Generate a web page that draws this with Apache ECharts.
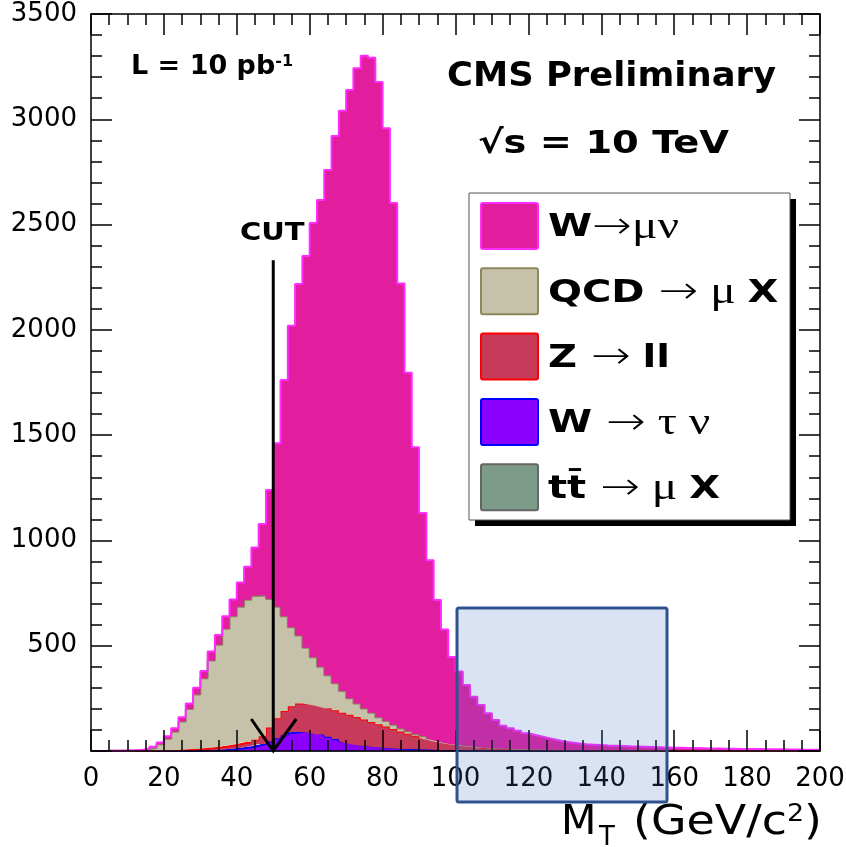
<!DOCTYPE html>
<html>
<head>
<meta charset="utf-8">
<script src="https://cdn.jsdelivr.net/npm/echarts@6/dist/echarts.min.js"></script>
<style>
  html, body { margin: 0; padding: 0; background: #fff; }
  #chart { width: 846px; height: 847px; }
</style>
</head>
<body>
<div id="chart"></div>
<script>
// M_T histogram, 2 GeV bins from 0 to 200
var binWidth = 2;
var xTicks = [0, 20, 40, 60, 80, 100, 120, 140, 160, 180, 200];
var yTicks = [0, 500, 1000, 1500, 2000, 2500, 3000, 3500];

// per-process contents (events / bin)
var wMuNu = [0, 0, 0, 0, 1, 1, 1, 2, 5, 8, 12, 16, 20, 25, 32, 35, 42, 46, 60, 80,
    115, 157, 231, 340, 518, 776, 1122, 1432, 1670, 1861, 2062, 2217, 2399, 2599, 2756, 2889, 3017, 3100, 3110, 3017,
    2816, 2478, 2113, 1702, 1361, 1060, 847, 667, 535, 411, 347, 287, 236, 199, 163, 133, 108, 97, 86, 75,
    68, 61, 53, 46, 38, 35, 31, 27, 26, 24, 22, 22, 21, 19, 18, 17, 16, 15, 14, 13,
    12, 12, 12, 11, 10, 10, 9, 9, 8, 8, 7, 8, 7, 7, 7, 6, 6, 5, 5, 5];
var qcdMuX = [0, 0, 1, 1, 1, 2, 3, 6, 13, 30, 55, 88, 135, 193, 259, 334, 416, 487, 557, 611,
    649, 675, 683, 668, 610, 530, 450, 376, 322, 265, 225, 188, 157, 129, 103, 78, 63, 52, 44, 33,
    26, 21, 14, 12, 9, 8, 6, 5, 4, 3, 3, 3, 3, 3, 2, 2, 2, 2, 2, 2,
    2, 2, 2, 2, 2, 2, 2, 2, 2, 2, 2, 2, 2, 2, 2, 2, 2, 2, 2, 2,
    2, 1, 1, 1, 1, 1, 2, 2, 2, 2, 2, 1, 1, 1, 1, 1, 1, 1, 1, 1];
var zLL = [0, 0, 0, 0, 0, 0, 1, 1, 2, 2, 3, 4, 5, 7, 8, 9, 11, 14, 17, 20,
    23, 25, 28, 37, 67, 95, 115, 125, 134, 135, 135, 134, 135, 136, 136, 135, 132, 125, 117, 109,
    101, 91, 82, 72, 63, 54, 46, 39, 33, 27, 23, 19, 16, 13, 11, 10, 8, 7, 6, 5,
    4, 4, 4, 3, 3, 2, 2, 2, 1, 1, 1, 1, 1, 1, 1, 1, 1, 1, 1, 1,
    1, 1, 1, 1, 1, 1, 0, 0, 0, 0, 0, 0, 0, 0, 0, 0, 0, 0, 0, 0];
var wTauNu = [0, 0, 0, 0, 0, 0, 0, 0, 0, 0, 0, 0, 0, 0, 1, 2, 3, 4, 6, 9,
    13, 18, 24, 32, 44, 59, 74, 86, 91, 89, 84, 77, 67, 56, 45, 36, 29, 24, 20, 17,
    14, 12, 10, 9, 8, 7, 7, 6, 5, 5, 4, 4, 3, 3, 3, 2, 2, 2, 2, 2,
    2, 1, 1, 1, 1, 1, 1, 1, 1, 1, 1, 0, 0, 0, 0, 0, 0, 0, 0, 0,
    0, 0, 0, 0, 0, 0, 0, 0, 0, 0, 0, 0, 0, 0, 0, 0, 0, 0, 0, 0];
var ttMuX = [0, 0, 0, 0, 0, 0, 0, 0, 0, 0, 0, 0, 0, 0, 0, 0, 0, 0, 0, 0,
    0, 0, 1, 1, 1, 1, 1, 1, 1, 1, 1, 1, 1, 1, 1, 1, 1, 1, 1, 1,
    1, 1, 1, 1, 1, 1, 0, 0, 0, 0, 0, 0, 0, 0, 0, 0, 0, 0, 0, 0,
    0, 0, 0, 0, 0, 0, 0, 0, 0, 0, 0, 0, 0, 0, 0, 0, 0, 0, 0, 0,
    0, 0, 0, 0, 0, 0, 0, 0, 0, 0, 0, 0, 0, 0, 0, 0, 0, 0, 0, 0];

var processNames = ['W\u2192\u03bc\u03bd', 'QCD \u2192 \u03bc X', 'Z \u2192 ll', 'W \u2192 \u03c4 \u03bd', 'tt\u0304 \u2192 \u03bc X'];
var legendRich = [
    '{b|W}{a|\u2192}{s|\u03bc\u03bd}',
    '{b|QCD }{a|\u2192}{s| \u03bc }{b|X}',
    '{b|Z }{a|\u2192}{s| }{b|ll}',
    '{b|W }{a|\u2192}{s| \u03c4 \u03bd}',
    '{b|tt\u0304 }{a|\u2192}{s| \u03bc }{b|X}'
];
var fillColors = ['#e21d9e', '#c6c1a9', '#c83a5a', '#8c00ff', '#7d9b89'];
var lineColors = ['#ff2bff', '#8c875e', '#ff0000', '#0000ff', '#666666'];

var cutValue = 50;
var cutTop = 2330;

// bin edges as categories (101 of them), last bin repeated to close the step
var binEdges = [];
for (var e = 0; e <= wMuNu.length; e++) binEdges.push(String(e * binWidth));
function stepData(vals) {
    return vals.concat([vals[vals.length - 1]]);
}

var chart = echarts.init(document.getElementById('chart'));

// bottom of the stack first
var stackOrder = [4, 3, 2, 1, 0];
var allValues = [wMuNu, qcdMuX, zLL, wTauNu, ttMuX];
var series = [];
stackOrder.forEach(function (k) {
    series.push({
        name: processNames[k],
        type: 'line',
        xAxisIndex: 0,
        yAxisIndex: 0,
        step: 'end',
        stack: 'mc',
        symbol: 'none',
        silent: true,
        z: 6 - k,
        data: stepData(allValues[k]),
        lineStyle: { color: lineColors[k], width: 2 },
        itemStyle: { color: fillColors[k] },
        areaStyle: { color: fillColors[k], opacity: 1 }
    });
});

var tickStyle = { color: '#000', width: 1.5 };

var option = {
    animation: false,
    backgroundColor: '#fff',
    grid: { left: 91, right: 26, top: 14, bottom: 96, containLabel: false, outerBoundsMode: 'none' },
    xAxis: [
        {
            type: 'category', data: binEdges, boundaryGap: false, position: 'bottom', show: false
        },
        {
            type: 'value', min: xTicks[0], max: xTicks[xTicks.length - 1], interval: 20, position: 'bottom', z: 10,
            axisLine: { show: true, onZero: false, lineStyle: tickStyle },
            axisTick: { show: true, inside: true, length: 21, lineStyle: tickStyle },
            minorTick: { show: true, splitNumber: 4, length: 11, lineStyle: tickStyle },
            splitLine: { show: false },
            axisLabel: { margin: 15, fontFamily: 'DejaVu Sans', fontSize: 26, color: '#000' }
        },
        {
            type: 'value', min: xTicks[0], max: xTicks[xTicks.length - 1], interval: 20, position: 'top', z: 10,
            axisLine: { show: true, onZero: false, lineStyle: tickStyle },
            axisTick: { show: true, inside: true, length: 21, lineStyle: tickStyle },
            minorTick: { show: true, splitNumber: 4, length: 11, lineStyle: tickStyle },
            splitLine: { show: false },
            axisLabel: { show: false }
        }
    ],
    yAxis: [
        {
            type: 'value', min: yTicks[0], max: yTicks[yTicks.length - 1], interval: 500, position: 'left', z: 10,
            axisLine: { show: true, onZero: false, lineStyle: tickStyle },
            axisTick: { show: true, inside: true, length: 21, lineStyle: tickStyle },
            minorTick: { show: true, splitNumber: 5, length: 11, lineStyle: tickStyle },
            splitLine: { show: false },
            axisLabel: {
                margin: 14, fontFamily: 'DejaVu Sans', fontSize: 26, color: '#000',
                formatter: function (v) { return v === 0 ? '' : String(v); }
            }
        },
        {
            type: 'value', min: yTicks[0], max: yTicks[yTicks.length - 1], interval: 500, position: 'right', z: 10,
            axisLine: { show: true, onZero: false, lineStyle: tickStyle },
            axisTick: { show: true, inside: true, length: 21, lineStyle: tickStyle },
            minorTick: { show: true, splitNumber: 5, length: 11, lineStyle: tickStyle },
            splitLine: { show: false },
            axisLabel: { show: false }
        }
    ],
    series: series
};
chart.setOption(option);

// annotations
function textEl(txt, x, y, size, scale, weight) {
    return {
        type: 'text', x: x, y: y, scaleX: scale || 1, z: 100,
        style: {
            text: txt, fill: '#000', fontFamily: 'DejaVu Sans', fontWeight: weight || 'bold', fontSize: size,
            align: 'left', verticalAlign: 'middle'
        }
    };
}

var gfx = [];
gfx.push({
    type: 'text', x: 131, y: 67, z: 100,
    style: {
        text: '{m|L = 10 pb}{u|-1}', align: 'left', verticalAlign: 'middle',
        rich: {
            m: { fontFamily: 'DejaVu Sans', fontWeight: 'bold', fontSize: 27, fill: '#000' },
            u: { fontFamily: 'DejaVu Sans', fontWeight: 'bold', fontSize: 16, fill: '#000', verticalAlign: 'top' }
        }
    }
});
gfx.push(textEl('CMS Preliminary', 447, 77, 34, 1.04));
gfx.push(textEl('\u221as = 10 TeV', 478, 145, 32, 1.2));
gfx.push(textEl('CUT', 240, 233, 25, 1.16));

// axis title M_T (GeV/c^2)
gfx.push(textEl('M', 561, 823, 41, 1, 'normal'));
gfx.push(textEl('T', 599, 838, 26, 1, 'normal'));
gfx.push({
    type: 'text', x: 633, y: 823, z: 100, scaleX: 1.12,
    style: {
        text: '{m|(GeV/c}{u|2}{m|)}', align: 'left', verticalAlign: 'middle',
        rich: {
            m: { fontFamily: 'DejaVu Sans', fontSize: 41, fill: '#000' },
            u: { fontFamily: 'DejaVu Sans', fontSize: 24, fill: '#000', verticalAlign: 'top' }
        }
    }
});

// legend box with shadow
var lgX = 469, lgY = 193, lgW = 321, lgH = 327;
gfx.push({ type: 'rect', z: 100, shape: { x: lgX + 6, y: lgY + 6, width: lgW, height: lgH }, style: { fill: '#000' } });
gfx.push({ type: 'rect', z: 101, shape: { x: lgX, y: lgY, width: lgW, height: lgH }, style: { fill: '#fff', stroke: '#555', lineWidth: 1 } });
for (var k = 0; k < 5; k++) {
    var rowTop = 203 + k * 65.3;
    gfx.push({ type: 'rect', z: 102, shape: { x: 481, y: rowTop, width: 57, height: 46, r: 2 },
        style: { fill: fillColors[k], stroke: lineColors[k], lineWidth: 2 } });
    gfx.push({
        type: 'text', x: 548, y: rowTop + 25, scaleX: 1.25, z: 102,
        style: {
            text: legendRich[k], align: 'left', verticalAlign: 'middle',
            rich: {
                b: { fontFamily: 'DejaVu Sans', fontWeight: 'bold', fontSize: 32, fill: '#000' },
                a: { fontFamily: 'DejaVu Sans', fontWeight: 'lighter', fontSize: 38, fill: '#000' },
                s: { fontFamily: 'Liberation Serif', fontSize: 38, fill: '#000' }
            }
        }
    });
}

// CUT arrow at M_T = 50
var pTop = chart.convertToPixel({ xAxisIndex: 1, yAxisIndex: 0 }, [cutValue, cutTop]);
var pBot = chart.convertToPixel({ xAxisIndex: 1, yAxisIndex: 0 }, [cutValue, 0]);
gfx.push({ type: 'line', z: 120, shape: { x1: pTop[0], y1: pTop[1], x2: pBot[0], y2: pBot[1] },
    style: { stroke: '#000', lineWidth: 3 } });
gfx.push({ type: 'polyline', z: 120,
    shape: { points: [[pBot[0] - 22, pBot[1] - 32], [pBot[0], pBot[1]], [pBot[0] + 23, pBot[1] - 32]] },
    style: { stroke: '#000', lineWidth: 3, fill: 'none' } });

// highlighted region overlay
gfx.push({ type: 'rect', z: 200, shape: { x: 457, y: 608, width: 210, height: 194, r: 2 },
    style: { fill: 'rgba(68,114,196,0.2)', stroke: '#2f528f', lineWidth: 3 } });

chart.setOption({ graphic: { elements: gfx } });
</script>
</body>
</html>
